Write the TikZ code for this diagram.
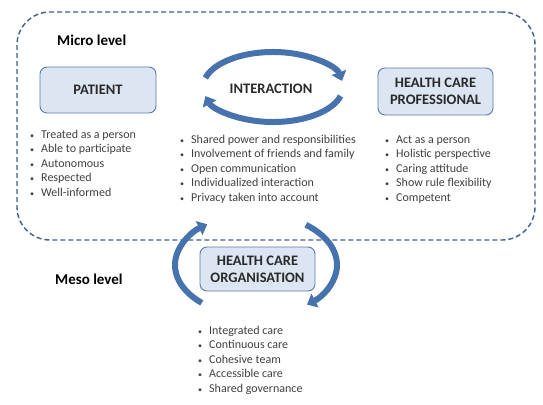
\documentclass[tikz,border=0pt]{standalone}
\usepackage{fontspec}
\setmainfont{Carlito}
\usetikzlibrary{arrows.meta,calc}
\definecolor{dashc}{HTML}{3F5F8F}
\definecolor{boxfill}{HTML}{DCE6F2}
\definecolor{boxdraw}{HTML}{5A7AA6}
\definecolor{ribbon}{HTML}{4672AE}
\definecolor{txt}{HTML}{2A2A2A}
\definecolor{ltxt}{HTML}{404040}
\tikzset{
  levelbox/.style={draw=boxdraw, fill=boxfill, line width=0.9pt, rounded corners=7pt, align=center, font=\fontsize{14.5}{17}\selectfont\bfseries, text=txt},
  leveltitle/.style={font=\fontsize{15}{17}\selectfont\bfseries, text=black, anchor=west, inner sep=0},
  bulletlist/.style={anchor=north west, inner sep=0, text=ltxt, font=\fontsize{12}{14.5}\selectfont},
  ribbonarrow/.style={draw=ribbon, line width=6pt, -{Triangle[width=15pt,length=9pt]}},
}
\newcommand{\blist}[1]{\begin{tabular}{@{}l@{}}#1\end{tabular}}
\newcommand{\bt}{\makebox[11pt][l]{\fontsize{8}{14.5}\selectfont\textbullet}}
\begin{document}
\begin{tikzpicture}[x=1pt,y=-1pt]
\useasboundingbox (0,0) rectangle (543,404);
% micro frame
\node[draw=dashc, line width=1.4pt, dash pattern=on 5pt off 3pt, rounded corners=33pt, minimum width=518pt, minimum height=228pt, inner sep=0] (micro) at (276,126) {};
\node[leveltitle] (microlbl) at (57,40) {Micro level};
\node[leveltitle] (mesolbl) at (55,279) {Meso level};
% boxes
\node[levelbox, minimum width=116pt, minimum height=46pt] (patient) at (98,90) {PATIENT};
\node[levelbox, minimum width=115pt, minimum height=47pt] (hcp) at (435.5,91.5) {HEALTH CARE\\PROFESSIONAL};
\node[font=\fontsize{14.5}{17}\selectfont\bfseries, text=txt] (inter) at (271,89) {INTERACTION};
\node[levelbox, minimum width=115pt, minimum height=44pt] (hco) at (257.5,269) {HEALTH CARE\\ORGANISATION};
% interaction arrows
\coordinate (ic) at (273,87);
\draw[ribbonarrow] ($(ic)+(165:70pt and 35pt)$) arc[start angle=165, end angle=10, x radius=70pt, y radius=35pt];
\draw[ribbonarrow] ($(ic)+(-15:70pt and 35pt)$) arc[start angle=-15, end angle=-165, x radius=70pt, y radius=35pt];
% meso arrows
\coordinate (mc) at (256,265);
\draw[ribbonarrow] ($(mc)+(228:81pt and 51pt)$) arc[start angle=228, end angle=127, x radius=81pt, y radius=51pt];
\draw[ribbonarrow] ($(mc)+(52:81pt and 51pt)$) arc[start angle=52, end angle=-51, x radius=81pt, y radius=51pt];
% lists
\node[bulletlist] (plist) at (30,128) {\blist{\bt Treated as a person\\ \bt Able to participate\\ \bt Autonomous\\ \bt Respected\\ \bt Well-informed}};
\node[bulletlist] (ilist) at (180,133) {\blist{\bt Shared power and responsibilities\\ \bt Involvement of friends and family\\ \bt Open communication\\ \bt Individualized interaction\\ \bt Privacy taken into account}};
\node[bulletlist] (hlist) at (385,133) {\blist{\bt Act as a person\\ \bt Holistic perspective\\ \bt Caring attitude\\ \bt Show rule flexibility\\ \bt Competent}};
\node[bulletlist] (olist) at (198,324) {\blist{\bt Integrated care\\ \bt Continuous care\\ \bt Cohesive team\\ \bt Accessible care\\ \bt Shared governance}};
\end{tikzpicture}
\end{document}
